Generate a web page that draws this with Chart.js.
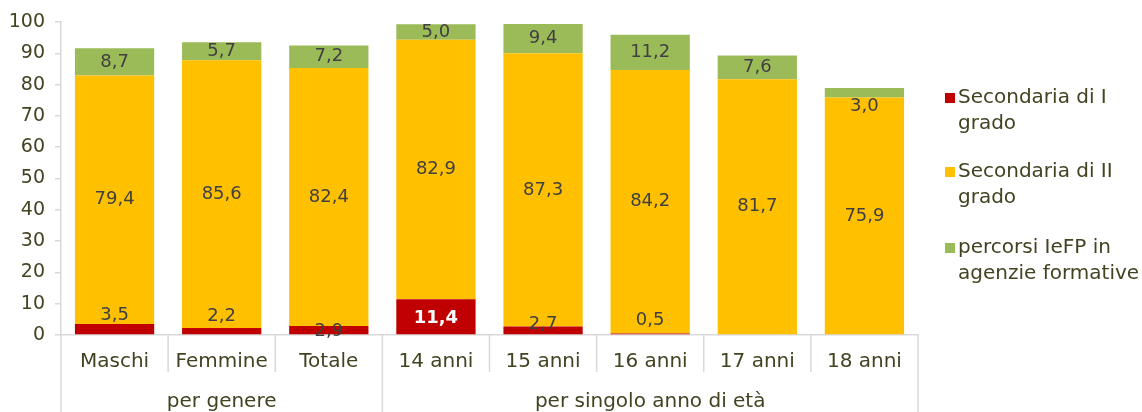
<!DOCTYPE html>
<html><head><meta charset="utf-8">
<script src="https://cdn.jsdelivr.net/npm/chart.js@4/dist/chart.umd.min.js"></script>
<style>html,body{margin:0;padding:0;background:#fff}#wrap{width:1142px;height:412px;position:relative}</style>
</head><body><div id="wrap"><canvas id="c" width="1142" height="412"></canvas></div>
<script>
const categories = ["Maschi","Femmine","Totale","14 anni","15 anni","16 anni","17 anni","18 anni"];
const groups = ["per genere","per singolo anno di età"];
const groupSizes = [3,5];
const seriesNames = ["Secondaria di I grado","Secondaria di II grado","percorsi IeFP in agenzie formative"];
const legendLines = [["Secondaria di I","grado"],["Secondaria di II","grado"],["percorsi IeFP in","agenzie formative"]];
const secI = [3.5,2.2,2.9,11.4,2.7,0.5,0,0];
const secII = [79.4,85.6,82.4,82.9,87.3,84.2,81.7,75.9];
const iefp = [8.7,5.7,7.2,5.0,9.4,11.2,7.6,3.0];
const yTicks = [0,10,20,30,40,50,60,70,80,90,100];

const colors = ["#c00000","#ffc000","#9bbb59"];
const textCol = "#434322";
const labelCol = "#404040";
const FONT = "'DejaVu Sans', sans-serif";
const labelOffsets = [[-14,-15,1,2,-6,-14,0,0],[0,0,0,0,0,0,0,0],[0,0,0,0,0,0,0,14]];

const fmt = v => v.toFixed(1).replace('.', ',');

const labelsPlugin = {
  id:'barLabels',
  afterDatasetsDraw(chart){
    const ctx = chart.ctx;
    ctx.save();
    ctx.textAlign='center'; ctx.textBaseline='middle';
    chart.data.datasets.forEach((ds,di)=>{
      const meta = chart.getDatasetMeta(di);
      meta.data.forEach((el,i)=>{
        const v = ds.data[i];
        if(!v) return;
        const y = (el.y+el.base)/2 + labelOffsets[di][i];
        if(di===0 && v>10){ ctx.fillStyle='#ffffff'; ctx.font="bold 18px "+FONT; }
        else { ctx.fillStyle=labelCol; ctx.font="18px "+FONT; }
        ctx.fillText(fmt(v), el.x, y);
      });
    });
    ctx.restore();
  }
};

const axisPlugin = {
  id:'axisDeco',
  afterDraw(chart){
    const ctx = chart.ctx, xs = chart.scales.x, area = chart.chartArea;
    ctx.save();
    ctx.strokeStyle='#d9d9d9'; ctx.lineWidth=1.5;
    const step = xs.getPixelForValue(1)-xs.getPixelForValue(0);
    const n = categories.length;
    const groupEdges = [0]; let acc=0; groupSizes.forEach(s=>{acc+=s; groupEdges.push(acc);});
    for(let i=0;i<=n;i++){
      const x = xs.getPixelForValue(0) - step/2 + i*step;
      const isGroup = groupEdges.includes(i);
      ctx.beginPath(); ctx.moveTo(x, area.bottom); ctx.lineTo(x, isGroup?412:372); ctx.stroke();
    }
    ctx.fillStyle=textCol; ctx.font="20px "+FONT; ctx.textAlign='center'; ctx.textBaseline='middle';
    for(let g=0; g<groups.length; g++){
      const a = xs.getPixelForValue(0) - step/2 + groupEdges[g]*step;
      const b = xs.getPixelForValue(0) - step/2 + groupEdges[g+1]*step;
      ctx.fillText(groups[g], (a+b)/2, 402);
    }
    ctx.textAlign='left';
    const lx = 945, ly = [98,172,248];
    legendLines.forEach((lines,k)=>{
      ctx.fillStyle=colors[k];
      ctx.fillRect(lx, ly[k]-5, 10, 10);
      ctx.fillStyle=textCol;
      lines.forEach((t,j)=> ctx.fillText(t, lx+13, ly[k]+j*26));
    });
    ctx.restore();
  }
};

new Chart(document.getElementById('c'),{
  type:'bar',
  data:{
    labels:categories,
    datasets:[secI,secII,iefp].map((d,k)=>({
      label:seriesNames[k], data:d, backgroundColor:colors[k],
      borderWidth:0, categoryPercentage:1, barPercentage:0.74
    }))
  },
  options:{
    responsive:false, animation:false,
    layout:{padding:{left:0,right:224,top:22,bottom:0}},
    plugins:{legend:{display:false},tooltip:{enabled:false}},
    scales:{
      x:{stacked:true,
        grid:{display:false,drawTicks:false},
        border:{display:true,color:'#d9d9d9',width:1.5},
        ticks:{color:textCol,font:{family:FONT,size:20},padding:15,maxRotation:0},
        afterFit(s){s.height=77;}
      },
      y:{stacked:true,min:0,max:100,
        afterBuildTicks(s){s.ticks=yTicks.map(v=>({value:v}));},
        grid:{drawOnChartArea:false,color:'#d9d9d9',tickLength:6,lineWidth:1.5},
        border:{display:true,color:'#d9d9d9',width:1.5},
        ticks:{color:textCol,font:{family:FONT,size:19},padding:10},
        afterFit(s){s.width=61;}
      }
    }
  },
  plugins:[labelsPlugin,axisPlugin]
});
</script></body></html>
